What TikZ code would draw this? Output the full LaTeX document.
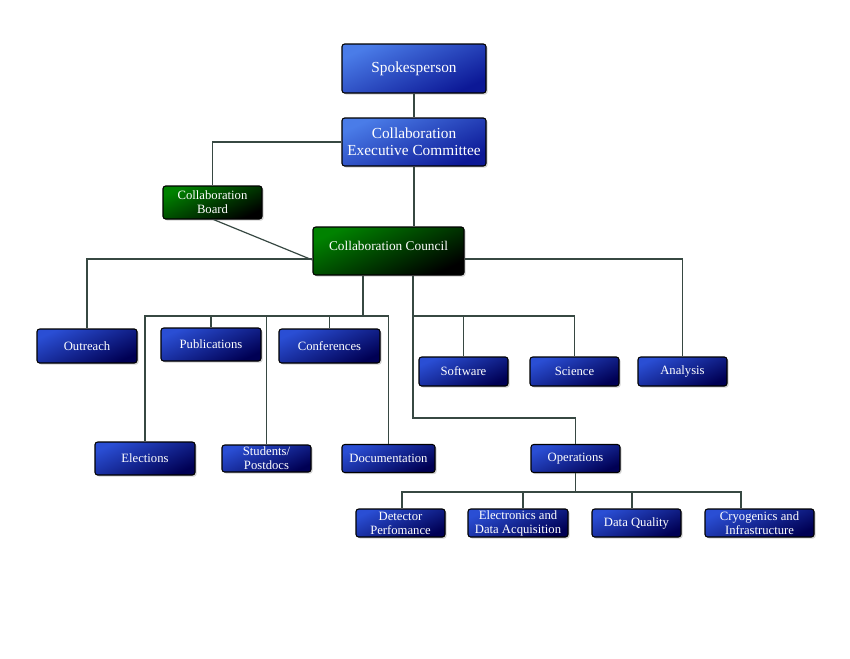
\documentclass[tikz,border=0pt]{standalone}
\usepackage{fontspec}
\setmainfont{Liberation Serif}
\usetikzlibrary{shadows,calc}
\definecolor{bluetop}{RGB}{74,124,232}
\definecolor{bluebot}{RGB}{12,24,150}
\definecolor{navytop}{RGB}{42,78,212}
\definecolor{navybot}{RGB}{0,0,84}
\definecolor{greentop}{RGB}{0,130,0}
\definecolor{greenbot}{RGB}{0,0,0}
\definecolor{linkgray}{RGB}{55,72,66}
\tikzset{
  boxsize/.style 2 args = {minimum width=#1*0.75pt, minimum height=#2*0.75pt},
  orgnode/.style = {rectangle, rounded corners=2pt, draw=black, thick, align=center, inner sep=0pt, text=white,
    font=\fontsize{9.5}{10.5}\selectfont, drop shadow={shadow xshift=1.2pt, shadow yshift=-1.2pt, opacity=0.35}},
  org_top/.style = {orgnode, top color=bluetop, bottom color=bluebot, shading angle=25, font=\fontsize{11.5}{12.8}\selectfont},
  org_b/.style = {orgnode, top color=navytop, bottom color=navybot, shading angle=25},
  org_g/.style = {orgnode, top color=greentop, bottom color=greenbot, shading angle=25},
  link/.style = {draw=linkgray, line width=0.9pt}
}
\begin{document}
\begin{tikzpicture}[x=0.75pt, y=-0.75pt]
	\useasboundingbox (0,0) rectangle (850,658);
	\node [org_top, boxsize={144}{49}] (spk) at (414,68.5) {Spokesperson};
	\node [org_top, boxsize={144}{48}] (cec) at (414,142) {Collaboration\\Executive Committee};
	\node [org_g, boxsize={99}{33}] (board) at (212.5,202.5) {Collaboration\\Board};
	\node [org_g, boxsize={151}{48}, text depth=7pt, font=\fontsize{10}{11}\selectfont] (council) at (388.5,251) {Collaboration Council};

	\node [org_b, boxsize={100}{34}] (outreach) at (87,346) {Outreach};
	\node [org_b, boxsize={100}{33}] (pubs) at (211,344.5) {Publications};
	\node [org_b, boxsize={101}{34}] (confs) at (329.5,346) {Conferences};
	\node [org_b, boxsize={100}{33}] (elections) at (145,458.5) {Elections};
	\node [org_b, boxsize={89}{27}] (students) at (266.5,458.5) {Students/\\Postdocs};
	\node [org_b, boxsize={93}{28}] (docs) at (388.5,458.5) {Documentation};

	\node [org_b, boxsize={89}{29}] (software) at (463.5,371.5) {Software};
	\node [org_b, boxsize={89}{29}] (science) at (574.5,371.5) {Science};
	\node [org_b, boxsize={89}{29}] (analysis) at (682.5,371.5) {Analysis};
	\node [org_b, boxsize={89}{28}] (ops) at (575.5,458.5) {Operations};

	\node [org_b, boxsize={89}{28}] (detector) at (400.5,523) {Detector\\Perfomance};
	\node [org_b, boxsize={100}{28}] (elec) at (518,523) {Electronics and\\Data Acquisition};
	\node [org_b, boxsize={89}{28}] (dq) at (636.5,523) {Data Quality};
	\node [org_b, boxsize={109}{28}] (cryo) at (759.5,523) {Cryogenics and\\Infrastructure};

	\coordinate (bus1) at (363,316);
	\coordinate (bus2) at (413,316);
	\coordinate (bend) at (413,418);
	\coordinate (bus3) at (575.5,492);

	\draw [link] (spk) -- (cec);
	\draw [link] (cec.west) -| (board.north);
	\draw [link] (cec.south) -- (cec.south |- council.north);
	\draw [link] ($(board.south)+(1,0)$) -- (council.west |- 0,260);
	\draw [link] (council.west |- 0,259) -| (outreach.north);
	\draw [link] (council.east |- 0,259) -| (analysis.north);

	\draw [link] (council.south -| bus1) -- (bus1);
	\foreach \n in {elections, pubs, students, confs, docs}
		\draw [link] (bus1) -| (\n.north);

	\draw [link] (council.south -| bus2) -- (bend) -| (ops.north);
	\foreach \n in {software, science}
		\draw [link] (bus2) -| (\n.north);

	\draw [link] (ops.south) -- (bus3);
	\draw [link] (bus3) -| ($(detector.north)+(1.5,0)$);
	\draw [link] (bus3) -| ($(elec.north)+(5,0)$);
	\draw [link] (bus3) -| ($(dq.north)+(-4.5,0)$);
	\draw [link] (bus3) -| ($(cryo.north)+(-18.5,0)$);
\end{tikzpicture}
\end{document}
